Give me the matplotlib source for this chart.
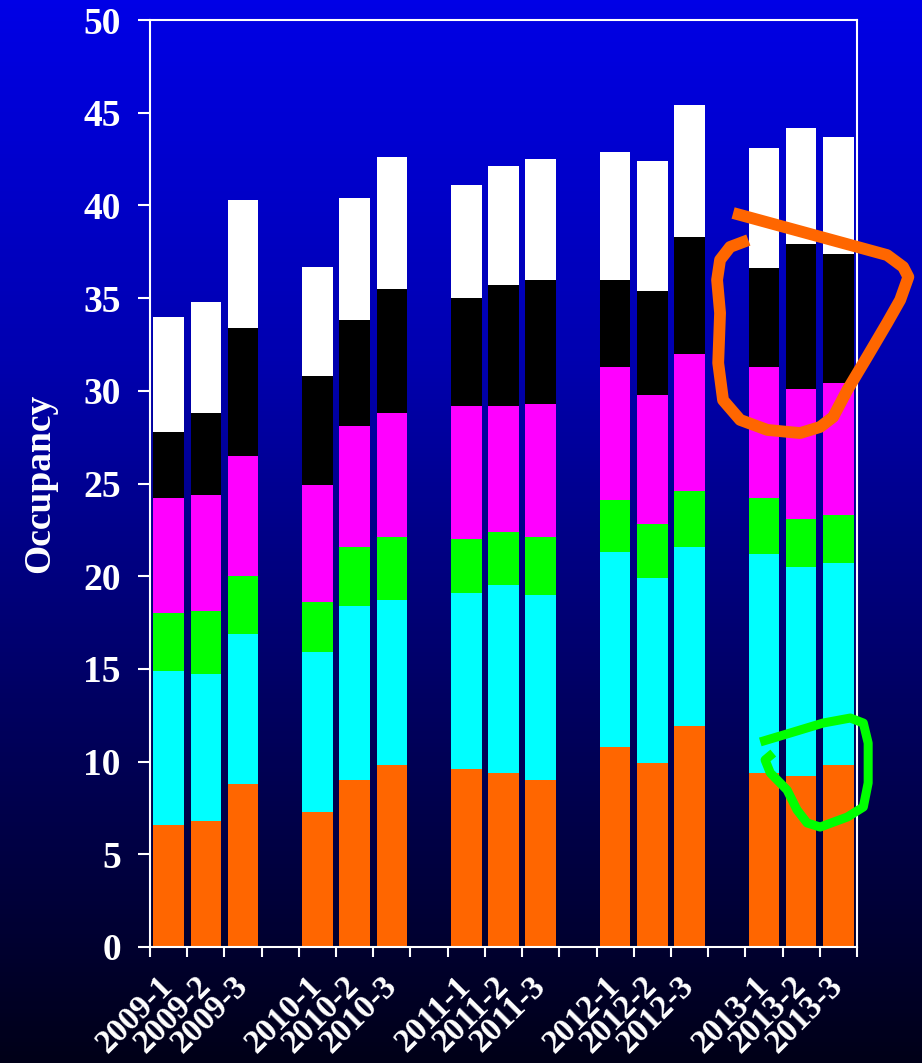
import numpy as np
import matplotlib.pyplot as plt
from matplotlib.colors import LinearSegmentedColormap
from matplotlib.transforms import ScaledTranslation

plt.rcParams['font.family'] = ['Liberation Serif', 'DejaVu Serif']
plt.rcParams['font.weight'] = 'bold'

# 19 slots on the x axis, empty strings are the gaps between years
categorias = ['2009-1', '2009-2', '2009-3', '',
              '2010-1', '2010-2', '2010-3', '',
              '2011-1', '2011-2', '2011-3', '',
              '2012-1', '2012-2', '2012-3', '',
              '2013-1', '2013-2', '2013-3']

# stacked segments, bottom to top (15 bars)
naranja = [6.6, 6.8, 8.8, 7.3, 9.0, 9.8, 9.6, 9.4, 9.0, 10.8, 9.9, 11.9, 9.4, 9.2, 9.8]
cian = [8.3, 7.9, 8.1, 8.6, 9.4, 8.9, 9.5, 10.1, 10.0, 10.5, 10.0, 9.7, 11.8, 11.3, 10.9]
verde = [3.1, 3.4, 3.1, 2.7, 3.2, 3.4, 2.9, 2.9, 3.1, 2.8, 2.9, 3.0, 3.0, 2.6, 2.6]
magenta = [6.2, 6.3, 6.5, 6.3, 6.5, 6.7, 7.2, 6.8, 7.2, 7.2, 7.0, 7.4, 7.1, 7.0, 7.1]
negro = [3.6, 4.4, 6.9, 5.9, 5.7, 6.7, 5.8, 6.5, 6.7, 4.7, 5.6, 6.3, 5.3, 7.8, 7.0]
blanco = [6.2, 6.0, 6.9, 5.9, 6.6, 7.1, 6.1, 6.4, 6.5, 6.9, 7.0, 7.1, 6.5, 6.3, 6.3]

series = [naranja, cian, verde, magenta, negro, blanco]
colores = ['#FF6600', '#00FFFF', '#00FF00', '#FF00FF', '#000000', '#FFFFFF']

# hand drawn marks on the slide (x in slot units, y in occupancy units)
trazo_naranja_x = [15.17, 18.51, 19.31, 19.74, 19.88, 19.66, 19.31, 18.77, 18.24, 17.86, 17.51,
                   16.97, 16.09, 15.36, 14.90, 14.77, 14.82, 14.74, 14.82, 15.09, 15.58]
trazo_naranja_y = [39.59, 37.76, 37.32, 36.68, 36.14, 34.90, 33.66, 31.82, 30.04, 28.59, 28.05,
                   27.72, 27.89, 28.43, 29.50, 31.50, 34.20, 35.98, 37.06, 37.76, 38.13]
trazo_verde_x = [15.90, 16.70, 17.59, 18.32, 18.67, 18.80, 18.80, 18.67, 18.24, 17.51, 17.16,
                 16.89, 16.62, 16.17, 16.03, 16.25]
trazo_verde_y = [11.06, 11.54, 12.08, 12.35, 12.08, 11.00, 8.85, 7.55, 7.01, 6.47, 6.69,
                 7.39, 8.47, 9.39, 10.09, 10.46]

fig = plt.figure(figsize=(9.22, 10.63), dpi=100)

# gradient background
fondo = fig.add_axes([0, 0, 1, 1], zorder=-1)
cmap = LinearSegmentedColormap.from_list('fondo', ['#0000E6', '#0000B0', '#000060', '#000018'])
fondo.imshow(np.linspace(0, 1, 256).reshape(-1, 1), aspect='auto', cmap=cmap,
             extent=[0, 1, 0, 1])
fondo.axis('off')

ax = fig.add_axes([150 / 922, 1 - 947 / 1063, 707 / 922, 927 / 1063])
ax.set_facecolor('none')

pos = [i for i, c in enumerate(categorias) if c]
base = np.zeros(len(pos))
for vals, col in zip(series, colores):
    ax.bar(pos, vals, bottom=base, width=0.82, color=col, linewidth=0, zorder=2)
    base = base + np.array(vals)

ax.plot(trazo_naranja_x, trazo_naranja_y, color='#FF6600', lw=8.5,
        solid_joinstyle='round', solid_capstyle='butt', clip_on=False, zorder=5)
ax.plot(trazo_verde_x, trazo_verde_y, color='#00FF00', lw=6.5,
        solid_joinstyle='round', solid_capstyle='butt', clip_on=False, zorder=5)

ax.set_xlim(-0.5, len(categorias) - 0.5)
ax.set_ylim(0, 50)
ax.set_yticks(np.arange(0, 51, 5))
ax.set_xticks(np.arange(-0.5, len(categorias), 1))
ax.set_xticklabels([])
ax.set_xticks(range(len(categorias)), minor=True)
ax.set_xticklabels(categorias, minor=True, rotation=45, ha='right', va='center',
                   rotation_mode='anchor')
desplaza = ScaledTranslation(-0.16, 0, fig.dpi_scale_trans)
for lab in ax.get_xticklabels(minor=True):
    lab.set_transform(lab.get_transform() + desplaza)

for s in ax.spines.values():
    s.set_color('white')
    s.set_linewidth(1.5)

ax.tick_params(axis='y', colors='white', length=9, width=1.5, labelsize=27, pad=12)
ax.tick_params(axis='x', which='major', colors='white', length=7, width=1.5)
ax.tick_params(axis='x', which='minor', length=0, labelcolor='white', labelsize=24, pad=25)

ax.set_ylabel('Occupancy', color='white', fontsize=27, fontweight='bold')
ax.yaxis.set_label_coords(-0.132, 0.5)

fig.savefig('out.png', dpi=100)
